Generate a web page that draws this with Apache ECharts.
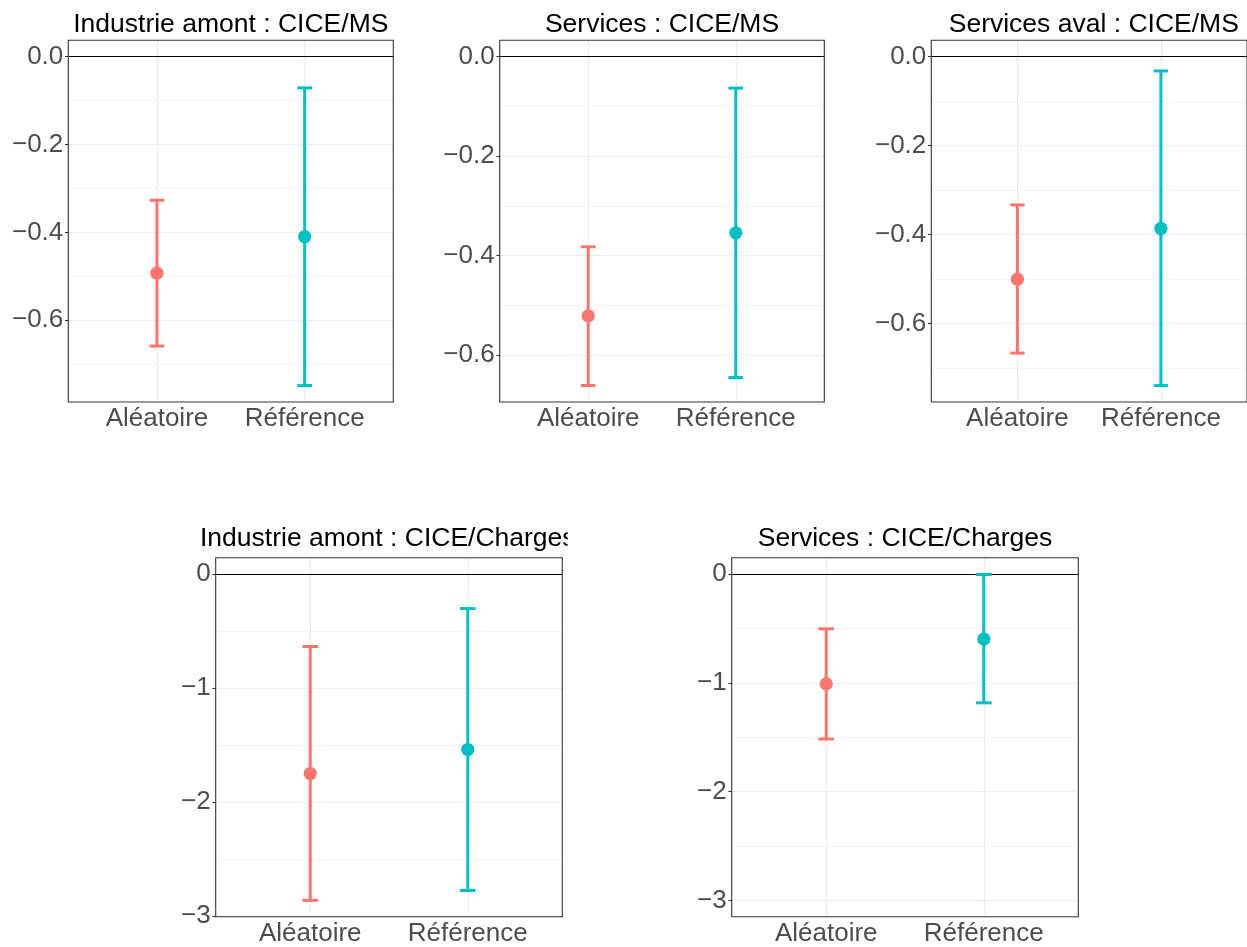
<!DOCTYPE html>
<html>
<head>
<meta charset="utf-8">
<script src="https://cdn.jsdelivr.net/npm/echarts@6/dist/echarts.min.js"></script>
<style>
  html, body { margin: 0; padding: 0; background: #fff; }
  #chart { width: 1247px; height: 947px; }
</style>
</head>
<body>
<div id="chart"></div>
<script>
// Estimates with confidence intervals, two methods per sector / measure.
const categories = ['Aléatoire', 'Référence'];
const colors = ['#F8766D', '#00BFC4'];

const titles = [
  'Industrie amont : CICE/MS',
  'Services : CICE/MS',
  'Services aval : CICE/MS',
  'Industrie amont : CICE/Charges',
  'Services : CICE/Charges'
];

// point estimates [Aléatoire, Référence]
const estIndAmontMS  = [-0.493, -0.410];
const estServicesMS  = [-0.521, -0.354];
const estServAvalMS  = [-0.500, -0.386];
const estIndAmontCh  = [-1.75, -1.54];
const estServicesCh  = [-1.01, -0.598];

// lower bounds
const lowIndAmontMS  = [-0.659, -0.749];
const lowServicesMS  = [-0.661, -0.645];
const lowServAvalMS  = [-0.666, -0.739];
const lowIndAmontCh  = [-2.863, -2.776];
const lowServicesCh  = [-1.517, -1.184];

// upper bounds
const highIndAmontMS = [-0.327, -0.071];
const highServicesMS = [-0.382, -0.063];
const highServAvalMS = [-0.333, -0.032];
const highIndAmontCh = [-0.636, -0.303];
const highServicesCh = [-0.504, -0.004];

// y tick labels
const ticksMS = [0, -0.2, -0.4, -0.6];
const ticksCh = [0, -1, -2, -3];
const labelsMS = ['0.0', '\u22120.2', '\u22120.4', '\u22120.6'];
const labelsCh = ['0', '\u22121', '\u22122', '\u22123'];

const panelsData = [
  { est: estIndAmontMS, low: lowIndAmontMS, high: highIndAmontMS, ticks: ticksMS, labels: labelsMS, limits: null },
  { est: estServicesMS, low: lowServicesMS, high: highServicesMS, ticks: ticksMS, labels: labelsMS, limits: null },
  { est: estServAvalMS, low: lowServAvalMS, high: highServAvalMS, ticks: ticksMS, labels: labelsMS, limits: null },
  { est: estIndAmontCh, low: lowIndAmontCh, high: highIndAmontCh, ticks: ticksCh, labels: labelsCh, limits: null },
  { est: estServicesCh, low: lowServicesCh, high: highServicesCh, ticks: ticksCh, labels: labelsCh, limits: [-3, 0] }
];

// panel boxes (px) and title placement
const boxes = [
  { left: 68.3,  top: 40.3,  width: 325,   height: 361.7, titleX: 230.8, titleTop: 11 },
  { left: 499.7, top: 40.3,  width: 324.6, height: 361.7, titleX: 662,   titleTop: 11 },
  { left: 931.3, top: 40.3,  width: 325,   height: 361.7, titleX: 1093.8, titleTop: 11 },
  { left: 215.7, top: 557.7, width: 346.6, height: 359,   titleX: 200,   titleTop: 525, cellRight: 567.7 },
  { left: 731.7, top: 557.7, width: 346.6, height: 359,   titleX: 905,   titleTop: 525 }
];

const FONT = '"Liberation Sans", Arial, Helvetica, sans-serif';
const TITLE_SIZE = 26.5;
const AXIS_SIZE = 26;
const textGrey = '#4d4d4d';
const frame = '#333333';
const gridCol = '#ebebeb';

const grid = [], xAxis = [], yAxis = [], series = [], graphic = [];

panelsData.forEach((p, i) => {
  const b = boxes[i];
  // limits: data range incl. 0 (or fixed limits), expanded by 5%
  let lo, hi;
  if (p.limits) { lo = p.limits[0]; hi = p.limits[1]; }
  else {
    lo = Math.min(0, ...p.low);
    hi = Math.max(0, ...p.high);
  }
  const pad = (hi - lo) * 0.05;
  const yMin = lo - pad, yMax = hi + pad;
  const step = p.ticks[0] - p.ticks[1];
  const minor = [];
  for (let k = 0; k < p.ticks.length + 1; k++) {
    const v = p.ticks[0] - step * (k + 0.5);
    if (v > yMin && v < yMax) minor.push(v);
  }

  grid.push({
    left: b.left, top: b.top, width: b.width, height: b.height,
    show: true, borderColor: frame, borderWidth: 1.1, backgroundColor: 'transparent', z: 6
  });

  xAxis.push({
    gridIndex: i, type: 'value', min: 0.4, max: 2.6,
    axisLine: { show: false },
    axisTick: { show: true, customValues: [1, 2], length: 3.3, lineStyle: { color: frame, width: 1.1 } },
    axisLabel: {
      customValues: [1, 2], margin: 4,
      formatter: v => categories[Math.round(v) - 1] || '',
      color: textGrey, fontSize: AXIS_SIZE, fontFamily: FONT
    },
    splitLine: { show: false }
  });

  yAxis.push({
    gridIndex: i, type: 'value', min: yMin, max: yMax,
    axisLine: { show: false },
    axisTick: { show: true, customValues: p.ticks, length: 3.3, lineStyle: { color: frame, width: 1.1 } },
    axisLabel: {
      customValues: p.ticks, margin: 5,
      formatter: v => {
        const idx = p.ticks.findIndex(t => Math.abs(t - v) < 1e-9);
        return idx >= 0 ? p.labels[idx] : '';
      },
      color: textGrey, fontSize: AXIS_SIZE, fontFamily: FONT
    },
    splitLine: { show: false }
  });

  // background grid lines
  series.push({
    type: 'line', xAxisIndex: i, yAxisIndex: i, data: [], silent: true, z: 1,
    markLine: {
      silent: true, symbol: 'none', label: { show: false }, animation: false, z: 1,
      data: [
        ...minor.map(v => ({ yAxis: v, lineStyle: { color: gridCol, width: 0.55, type: 'solid' } })),
        ...p.ticks.map(v => ({ yAxis: v, lineStyle: { color: gridCol, width: 1.1, type: 'solid' } })),
        ...categories.map((c, k) => ({ xAxis: k + 1, lineStyle: { color: gridCol, width: 1.1, type: 'solid' } }))
      ]
    }
  });

  // reference line at zero
  series.push({
    type: 'line', xAxisIndex: i, yAxisIndex: i, data: [], silent: true, z: 2,
    markLine: {
      silent: true, symbol: 'none', label: { show: false }, animation: false, z: 2,
      data: [{ yAxis: 0, lineStyle: { color: '#000', width: 1.1, type: 'solid' } }]
    }
  });

  // error bars
  series.push({
    type: 'custom', xAxisIndex: i, yAxisIndex: i, z: 3, silent: true,
    data: categories.map((c, k) => [k + 1, p.low[k], p.high[k], k]),
    renderItem: (params, api) => {
      const x = api.value(0);
      const top = api.coord([x, api.value(2)]);
      const bot = api.coord([x, api.value(1)]);
      const half = api.size([0.1, 0])[0] / 2;
      const col = colors[api.value(3)];
      const mk = (x1, y1, x2, y2) => ({
        type: 'line', shape: { x1, y1, x2, y2 },
        style: { stroke: col, lineWidth: 3, fill: null }
      });
      return {
        type: 'group',
        children: [
          mk(top[0], top[1], bot[0], bot[1]),
          mk(top[0] - half, top[1], top[0] + half, top[1]),
          mk(bot[0] - half, bot[1], bot[0] + half, bot[1])
        ]
      };
    }
  });

  // point estimates
  series.push({
    type: 'scatter', xAxisIndex: i, yAxisIndex: i, z: 4, silent: true,
    symbolSize: 13.3,
    data: categories.map((c, k) => ({ value: [k + 1, p.est[k]], itemStyle: { color: colors[k], opacity: 1 } }))
  });

  // panel title
  graphic.push({
    type: 'text', x: b.titleX, y: b.titleTop, silent: true, z: 10,
    style: {
      text: titles[i], fill: '#000', font: TITLE_SIZE + 'px ' + FONT,
      align: b.cellRight ? 'left' : 'center', verticalAlign: 'top'
    }
  });
  // a title wider than its cell is cut at the cell edge
  if (b.cellRight) {
    graphic.push({
      type: 'rect', silent: true, z: 11,
      shape: { x: b.cellRight, y: b.titleTop - 4, width: 40, height: 38 },
      style: { fill: '#ffffff' }
    });
  }
});

const chart = echarts.init(document.getElementById('chart'), null, { renderer: 'canvas' });
chart.setOption({
  animation: false,
  backgroundColor: '#ffffff',
  grid, xAxis, yAxis, series, graphic
});
</script>
</body>
</html>
